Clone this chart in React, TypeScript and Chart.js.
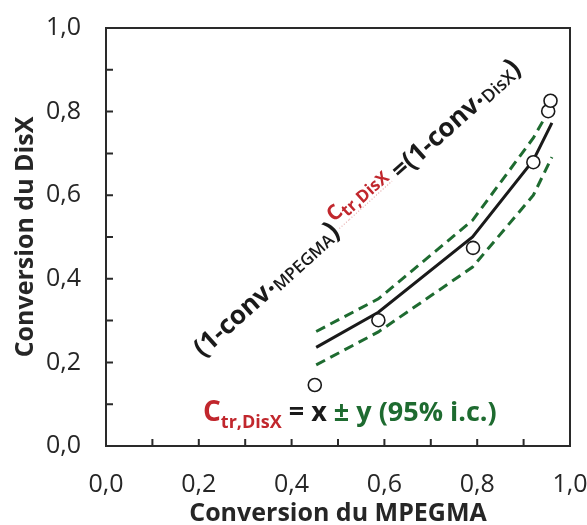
import React, { useEffect, useRef } from 'react';
import { Chart, registerables } from 'chart.js';

Chart.register(...registerables);

// Observed points (open circles)
const obsX = [0.45, 0.587, 0.791, 0.921, 0.953, 0.958];
const obsY = [0.146, 0.301, 0.474, 0.679, 0.801, 0.826];
// Fitted model and 95% confidence bounds
const fitX = [0.453, 0.587, 0.79, 0.921, 0.961];
const fitY = [0.236, 0.32, 0.5, 0.684, 0.773];
const upperY = [0.274, 0.352, 0.54, 0.737, 0.815];
const lowerY = [0.194, 0.273, 0.428, 0.6, 0.691];

const xTitle = 'Conversion du MPEGMA';
const yTitle = 'Conversion du DisX';

const BLACK = '#1a1a1a';
const RED = '#c1272d';
const GREEN = '#1e6b30';
const FONT = '"Open Sans", sans-serif';

type Run = {
  text: string;
  size: number;
  weight: string;
  color: string;
  dy: number;
  dot?: boolean;
  squiggle?: boolean;
};

const annotationRuns: Run[] = [
  { text: '(1-conv', size: 26, weight: 'bold', color: BLACK, dy: 0 },
  { text: '', size: 6, weight: 'bold', color: BLACK, dy: -6, dot: true },
  { text: 'MPEGMA', size: 17, weight: '600', color: BLACK, dy: 2 },
  { text: ')', size: 28, weight: 'bold', color: BLACK, dy: 0 },
  { text: ' ', size: 9, weight: 'bold', color: BLACK, dy: 0 },
  { text: 'C', size: 21, weight: 'bold', color: RED, dy: -13, squiggle: true },
  { text: 'tr,DisX', size: 17, weight: 'bold', color: RED, dy: -8, squiggle: true },
  { text: ' =(1-conv', size: 26, weight: 'bold', color: BLACK, dy: 0 },
  { text: '', size: 6, weight: 'bold', color: BLACK, dy: -6, dot: true },
  { text: 'DisX', size: 18, weight: '600', color: BLACK, dy: 2 },
  { text: ')', size: 28, weight: 'bold', color: BLACK, dy: 0 },
];

const formulaRuns: Run[] = [
  { text: 'C', size: 28, weight: 'bold', color: RED, dy: 0 },
  { text: 'tr,DisX', size: 18, weight: 'bold', color: RED, dy: 7 },
  { text: ' = x ', size: 27, weight: 'bold', color: BLACK, dy: 0 },
  { text: '\u00b1 y (95% i.c.)', size: 27, weight: 'bold', color: GREEN, dy: 0 },
];

function drawRuns(ctx: CanvasRenderingContext2D, runs: Run[], x0: number, y0: number, angleDeg: number) {
  ctx.save();
  ctx.translate(x0, y0);
  ctx.rotate((angleDeg * Math.PI) / 180);
  ctx.textBaseline = 'alphabetic';
  ctx.textAlign = 'left';
  let x = 0;
  for (const r of runs) {
    ctx.fillStyle = r.color;
    if (r.dot) {
      ctx.beginPath();
      ctx.arc(x + r.size / 2 + 1, r.dy, 2.3, 0, Math.PI * 2);
      ctx.fill();
      x += r.size + 2;
      continue;
    }
    ctx.font = `${r.weight} ${r.size}px ${FONT}`;
    ctx.fillText(r.text, x, r.dy);
    const w = ctx.measureText(r.text).width;
    if (r.squiggle) {
      ctx.save();
      ctx.strokeStyle = 'rgba(200,60,60,0.55)';
      ctx.lineWidth = 1;
      ctx.setLineDash([1, 2]);
      ctx.beginPath();
      ctx.moveTo(x, -5);
      ctx.lineTo(x + w, -5);
      ctx.stroke();
      ctx.restore();
    }
    x += w;
  }
  ctx.restore();
}

const framePlugin = {
  id: 'frameAndText',
  beforeDatasetsDraw(chart: any) {
    const { ctx } = chart;
    const xs = chart.scales.x;
    const ys = chart.scales.y;
    const l = xs.getPixelForValue(0);
    const r = xs.getPixelForValue(1);
    const b = ys.getPixelForValue(0);
    const t = ys.getPixelForValue(1);
    ctx.save();
    ctx.strokeStyle = '#2a2a2a';
    ctx.lineWidth = 2;
    ctx.strokeRect(l, t, r - l, b - t);
    ctx.beginPath();
    for (let i = 1; i < 10; i++) {
      const v = i / 10;
      const px = xs.getPixelForValue(v);
      ctx.moveTo(px, b);
      ctx.lineTo(px, b - 7);
      const py = ys.getPixelForValue(v);
      ctx.moveTo(l, py);
      ctx.lineTo(l + 7, py);
    }
    ctx.stroke();
    ctx.restore();
  },
  afterDraw(chart: any) {
    const { ctx } = chart;
    drawRuns(ctx, annotationRuns, 203, 358, -42);
    drawRuns(ctx, formulaRuns, 203, 421, 0);
  },
};

export default function App() {
  const ref = useRef<HTMLCanvasElement>(null);
  useEffect(() => {
    document.body.style.margin = '0';
    const canvas = ref.current!;
    const chart = new Chart(canvas, {
      type: 'scatter',
      data: {
        datasets: [
          {
            label: 'obs',
            data: obsX.map((x, i) => ({ x, y: obsY[i] })),
            showLine: false,
            pointRadius: 6.5,
            pointBorderWidth: 1.6,
            pointBorderColor: BLACK,
            pointBackgroundColor: '#ffffff',
            order: 0,
          },
          {
            label: 'fit',
            data: fitX.map((x, i) => ({ x, y: fitY[i] })),
            showLine: true,
            pointRadius: 0,
            borderColor: BLACK,
            borderWidth: 3,
            order: 1,
          },
          {
            label: 'upper',
            data: fitX.map((x, i) => ({ x, y: upperY[i] })),
            showLine: true,
            pointRadius: 0,
            borderColor: GREEN,
            borderWidth: 3,
            borderDash: [10, 6],
            order: 2,
          },
          {
            label: 'lower',
            data: fitX.map((x, i) => ({ x, y: lowerY[i] })),
            showLine: true,
            pointRadius: 0,
            borderColor: GREEN,
            borderWidth: 3,
            borderDash: [10, 6],
            order: 2,
          },
        ],
      },
      options: {
        animation: false,
        responsive: false,
        maintainAspectRatio: false,
        layout: { padding: { top: 28, right: 17, bottom: 0, left: 0 } },
        plugins: { legend: { display: false }, tooltip: { enabled: false } },
        scales: {
          x: {
            type: 'linear',
            min: 0,
            max: 1,
            grid: { display: false, drawTicks: false },
            border: { display: false },
            ticks: {
              stepSize: 0.2,
              padding: 24,
              color: '#262626',
              font: { family: FONT, size: 25 },
              callback: (v: any) => Number(v).toFixed(1).replace('.', ','),
            },
            title: {
              display: true,
              text: xTitle,
              color: '#262626',
              font: { family: FONT, size: 25, weight: 'bold' },
              padding: { top: 0, bottom: -4 },
            },
            afterFit: (s: any) => {
              s.height = 79;
              s.paddingLeft = 0;
              s.paddingRight = 0;
            },
          },
          y: {
            type: 'linear',
            min: 0,
            max: 1,
            grid: { display: false, drawTicks: false },
            border: { display: false },
            ticks: {
              stepSize: 0.2,
              padding: 25,
              color: '#262626',
              font: { family: FONT, size: 25 },
              callback: (v: any) => Number(v).toFixed(1).replace('.', ','),
            },
            title: {
              display: true,
              text: yTitle,
              color: '#262626',
              font: { family: FONT, size: 25, weight: 'bold' },
              padding: { top: 11, bottom: 0 },
            },
            afterFit: (s: any) => {
              s.width = 106;
              s.paddingTop = 0;
              s.paddingBottom = 0;
            },
          },
        },
      },
      plugins: [framePlugin],
    });
    return () => chart.destroy();
  }, []);
  return <canvas ref={ref} width={587} height={525} style={{ display: 'block' }} />;
}
